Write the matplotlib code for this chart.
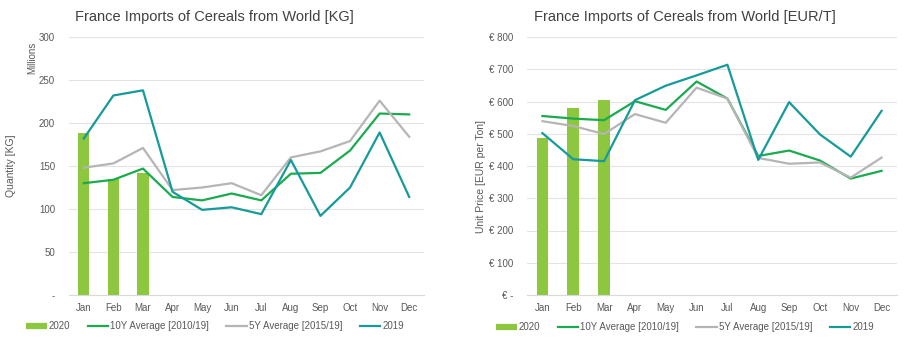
import matplotlib
matplotlib.use("Agg")
import matplotlib.pyplot as plt
from matplotlib.ticker import FuncFormatter
from matplotlib.lines import Line2D
import numpy as np

plt.rcParams['font.family'] = ['Liberation Sans', 'DejaVu Sans']

months = ["Jan", "Feb", "Mar", "Apr", "May", "Jun", "Jul", "Aug", "Sep", "Oct", "Nov", "Dec"]

# Quantity (millions of KG)
qty_2020 = [188, 135, 142]
qty_10y = [130, 134, 147, 114, 110, 118, 110, 141, 142, 168, 211, 210]
qty_5y = [148, 153, 171, 122, 125, 130, 116, 160, 167, 179, 226, 184]
qty_2019 = [182, 232, 238, 120, 99, 102, 94, 157, 92, 125, 189, 114]

# Unit price (EUR per ton)
price_2020 = [488, 580, 605]
price_10y = [555, 547, 542, 601, 574, 662, 609, 431, 448, 417, 361, 385]
price_5y = [539, 524, 499, 561, 534, 643, 609, 425, 407, 411, 364, 426]
price_2019 = [502, 421, 415, 604, 649, 681, 714, 419, 598, 498, 429, 571]

C_BAR = "#8DC63F"
C_10Y = "#1AAB4F"
C_5Y = "#B5B5B5"
C_2019 = "#169A9A"
TXT = "#595959"

W, H = 906, 347
fig = plt.figure(figsize=(W / 100, H / 100), dpi=100)
fig.patch.set_facecolor("white")


def setup(ax, ymax, step, fmt):
    ax.set_xlim(-0.5, 11.5)
    ax.set_ylim(0, ymax)
    ax.set_yticks(np.arange(0, ymax + 1, step))
    ax.yaxis.set_major_formatter(FuncFormatter(fmt))
    ax.set_xticks(range(12))
    ax.set_xticklabels(months)
    for s in ["top", "right", "left"]:
        ax.spines[s].set_visible(False)
    ax.spines["bottom"].set_color("#D9D9D9")
    ax.spines["bottom"].set_linewidth(0.8)
    ax.grid(axis="y", color="#E3E3E3", linewidth=0.8)
    ax.set_axisbelow(True)
    ax.tick_params(axis="both", length=0, labelsize=7, colors=TXT)
    ax.tick_params(axis="y", pad=10)
    ax.tick_params(axis="x", pad=6)


def draw(ax, bars, l10, l5, l19):
    x = np.arange(12)
    ax.bar(np.arange(len(bars)), bars, width=0.38, color=C_BAR, zorder=2)
    ax.plot(x, l10, color=C_10Y, lw=1.6, zorder=3)
    ax.plot(x, l5, color=C_5Y, lw=1.6, zorder=3)
    ax.plot(x, l19, color=C_2019, lw=1.6, zorder=4)


def legend(ax, cx, cy):
    handles = [
        Line2D([], [], color=C_BAR, lw=4.5, solid_capstyle="butt"),
        Line2D([], [], color=C_10Y, lw=1.6),
        Line2D([], [], color=C_5Y, lw=1.6),
        Line2D([], [], color=C_2019, lw=1.6),
    ]
    labels = ["2020", "10Y Average [2010/19]", "5Y Average [2015/19]", "2019"]
    ax.legend(handles, labels, loc="center", bbox_to_anchor=(cx / W, 1 - cy / H),
              bbox_transform=fig.transFigure, ncol=4, frameon=False, fontsize=7,
              labelcolor=TXT, handlelength=2.1, handletextpad=0.2, columnspacing=1.8)


# Left chart
ax1 = fig.add_axes([69 / W, 1 - 295 / H, (424 - 69) / W, (295 - 37) / H])
draw(ax1, qty_2020, qty_10y, qty_5y, qty_2019)
setup(ax1, 300, 50, lambda v, p: "-" if v == 0 else f"{int(v)}")
fig.text(214 / W, 1 - 17 / H, "France Imports of Cereals from World [KG]",
         ha="center", va="center", fontsize=10.5, color="#404040")
fig.text(32 / W, 1 - 58 / H, "Millions", rotation=90, ha="center", va="center",
         fontsize=7, color=TXT)
fig.text(11 / W, 1 - 166 / H, "Quantity [KG]", rotation=90, ha="center", va="center",
         fontsize=7.5, color=TXT)
legend(ax1, 215, 326)

# Right chart
ax2 = fig.add_axes([527 / W, 1 - 295 / H, (897 - 527) / W, (295 - 37) / H])
draw(ax2, price_2020, price_10y, price_5y, price_2019)
setup(ax2, 800, 100, lambda v, p: "€ -" if v == 0 else f"€ {int(v)}")
fig.text(685 / W, 1 - 17 / H, "France Imports of Cereals from World [EUR/T]",
         ha="center", va="center", fontsize=10.5, color="#404040")
fig.text(481 / W, 1 - 177 / H, "Unit Price [EUR per Ton]", rotation=90, ha="center",
         va="center", fontsize=7.5, color=TXT)
legend(ax2, 685, 327)

fig.savefig("out.png", dpi=100, facecolor="white")
